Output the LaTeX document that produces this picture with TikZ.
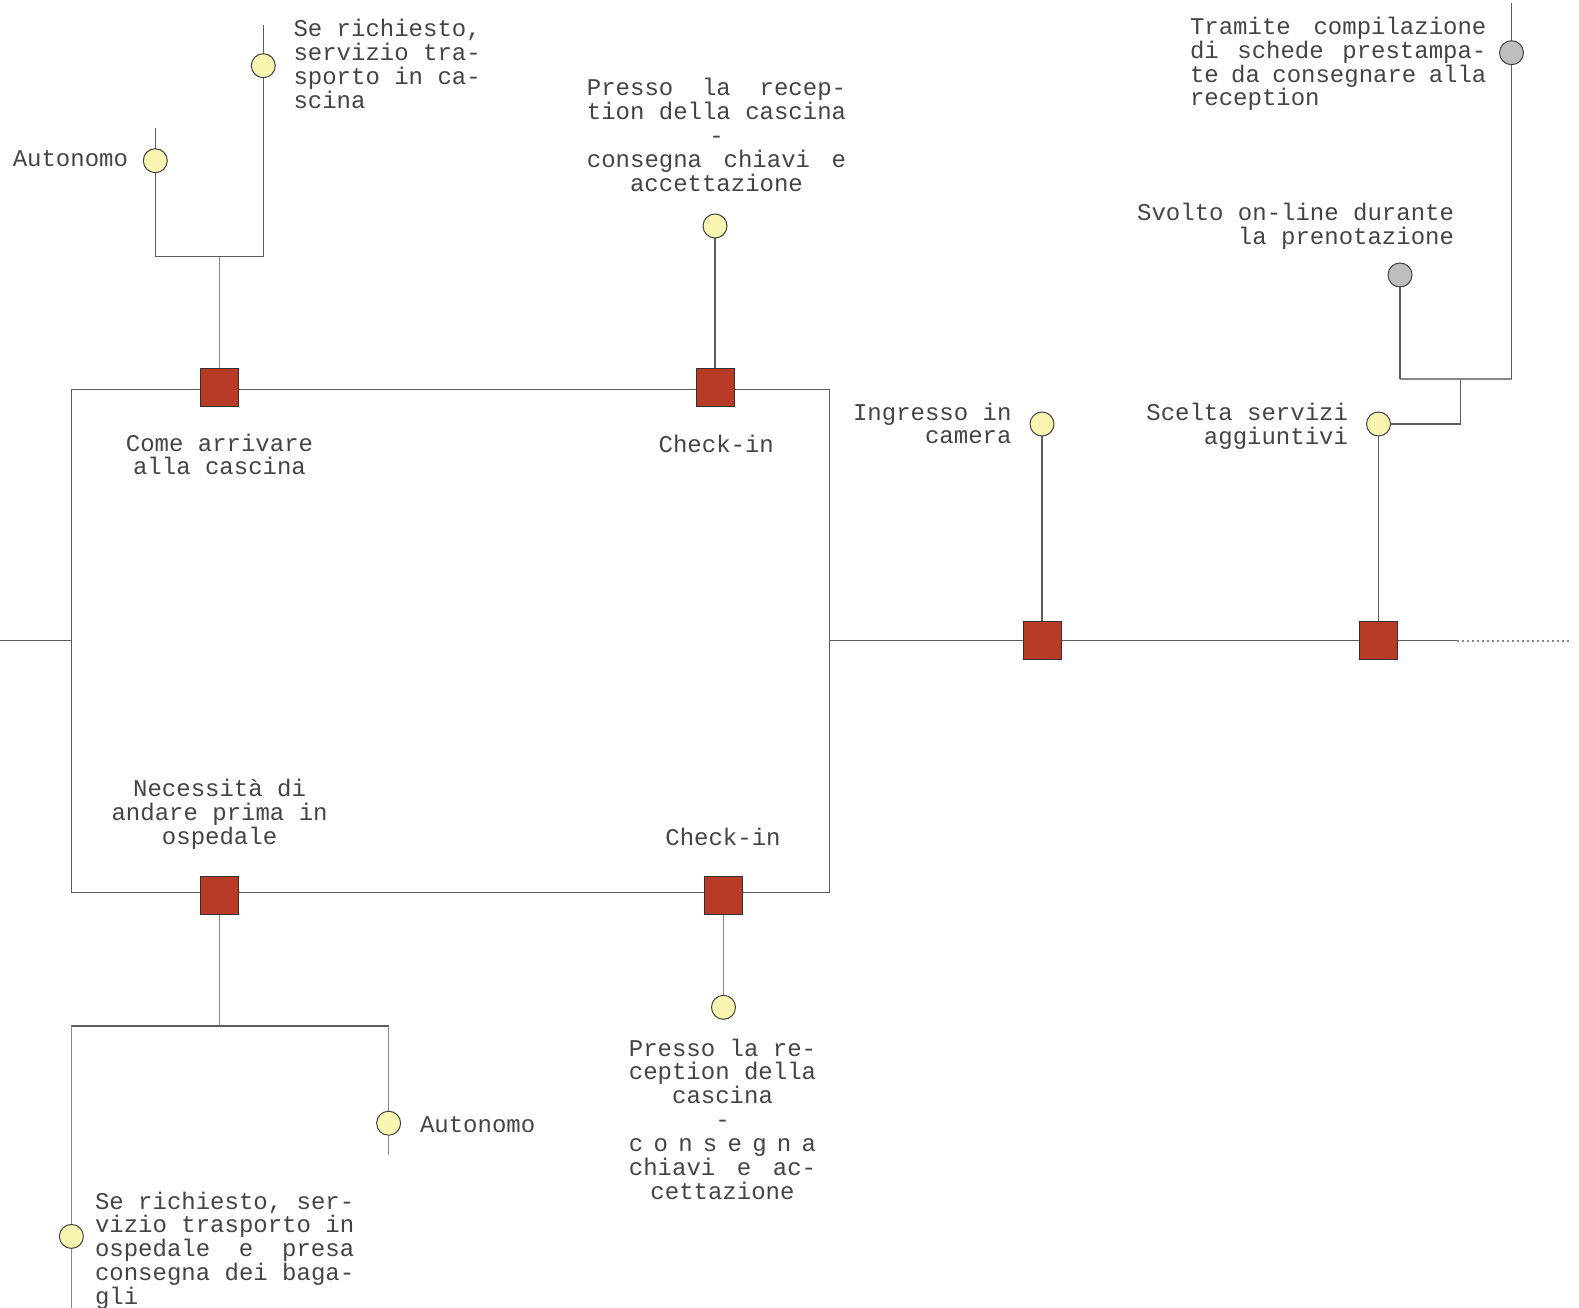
\documentclass[tikz,border=0pt]{standalone}
\usepackage{fontspec}
\newfontfamily\cour{Liberation Mono}
\usetikzlibrary{backgrounds}
\definecolor{sqred}{HTML}{B83B27}
\definecolor{cyel}{HTML}{FAF6B2}
\definecolor{cgray}{HTML}{BEBEBE}
\definecolor{wire}{HTML}{5C5C5C}
\definecolor{wirelt}{HTML}{8A8A8A}
\definecolor{txt}{HTML}{444444}
\newcommand\jl[2]{\makebox[#1][s]{#2}}
\def\js{\hskip 0.6em plus 1fil\relax}
\def\jss{\hskip 0.6em minus 0.3em\relax}
\def\lt{\hskip 0pt plus 1fil\relax}
\tikzset{
 lbl/.style={font=\cour\fontsize{24}{23.9}\selectfont, text=txt, inner sep=0pt, outer sep=0pt},
 sq/.style={draw=black!80, fill=sqred, minimum size=38pt, inner sep=0pt, outer sep=0pt, line width=1pt},
 cdot/.style={circle, draw=black!75, fill=cyel, minimum size=24pt, inner sep=0pt, outer sep=0pt, line width=1pt},
 gdot/.style={cdot, fill=cgray},
 wireline/.style={draw=wire, line width=1.2pt},
 wirelight/.style={draw=wirelt, line width=1.4pt},
}
\begin{document}
\begin{tikzpicture}[x=1pt,y=-1pt]
\useasboundingbox (0,0) rectangle (1579,1308);
% box
\node[draw=wire, line width=1.2pt, minimum width=757.9pt, minimum height=503pt, inner sep=0pt, outer sep=0pt] (box) at (450.35,640.8) {};
% squares
\node[sq] (sqA) at (219.5,387) {};
\node[sq] (sqB) at (715,387) {};
\node[sq] (sqC) at (219.5,895.5) {};
\node[sq] (sqD) at (723.5,895.5) {};
\node[sq] (sqE) at (1042,640.8) {};
\node[sq] (sqF) at (1378.5,640.8) {};
% circles
\node[cdot] (cA1) at (155.3,160.7) {};
\node[cdot] (cA2) at (263.3,65.7) {};
\node[cdot] (cB) at (715,226) {};
\node[cdot] (cC1) at (71.4,1236.4) {};
\node[cdot] (cC2) at (388.6,1123.2) {};
\node[cdot] (cD) at (723.5,1007.3) {};
\node[cdot] (cE) at (1042,424) {};
\node[cdot] (cF) at (1378.5,424) {};
\node[gdot] (gF1) at (1400,275) {};
\node[gdot] (gF2) at (1511.5,52.7) {};
% coordinates
\coordinate (jA) at (219.5,256.7);
\coordinate (jAl) at (155.3,256.7);
\coordinate (jAr) at (263.3,256.7);
\coordinate (eAl) at (155.3,128);
\coordinate (eAr) at (263.3,25);
\coordinate (jC) at (219.5,1026);
\coordinate (jCl) at (71.4,1026);
\coordinate (jCr) at (388.6,1026);
\coordinate (eCl) at (71.4,1308);
\coordinate (eCr) at (388.6,1155.4);
\coordinate (jF) at (1460.7,424);
\coordinate (jF2) at (1460.7,379);
\coordinate (jFl) at (1400,379);
\coordinate (jFr) at (1511.5,379);
\coordinate (eFr) at (1511.5,3);
\coordinate (L0) at (0,640.8);
\coordinate (R1) at (1457,640.8);
\coordinate (R2) at (1572,640.8);
% labels (base anchor of a multi-line node = its last line)
\node[lbl, anchor=base east] (tAut1) at (128,166.7) {Autonomo};
\node[lbl, anchor=base west, align=left] (tSe1) at (293.5,108.4) {Se richiesto,\\servizio tra-\\sporto in ca-\\scina};
\node[lbl, anchor=base, align=center] (tPr1) at (716.5,191.6) {\jl{10.8em}{Presso\js la\js recep-}\\tion della cascina\\-\\\jl{10.8em}{consegna\js chiavi\js e}\\accettazione};
\node[lbl, anchor=base, align=center] (tCome) at (219.5,474.9) {Come arrivare\\alla cascina};
\node[lbl, anchor=base] (tCk1) at (716.3,452.7) {Check-in};
\node[lbl, anchor=base west, align=left] (tTr) at (1190,106) {\jl{12.35em}{Tramite\js compilazione}\\\jl{12.35em}{di\js schede\js prestampa-}\\\jl{12.35em}{te\jss da\jss consegnare\jss alla}\\reception};
\node[lbl, anchor=base east, align=right] (tSv) at (1454,244.9) {Svolto on-line durante\\la prenotazione};
\node[lbl, anchor=base east, align=right] (tIn) at (1011.5,443.9) {Ingresso in\\camera};
\node[lbl, anchor=base east, align=right] (tSc) at (1348,444.6) {Scelta servizi\\aggiuntivi};
\node[lbl, anchor=base, align=center] (tNe) at (219.6,844.2) {Necessità di\\andare prima in\\ospedale};
\node[lbl, anchor=base] (tCk2) at (723,845) {Check-in};
\node[lbl, anchor=base, align=center] (tPr2) at (722.5,1199.4) {Presso la re-\\ception della\\cascina\\-\\\jl{7.8em}{c\lt o\lt n\lt s\lt e\lt g\lt n\lt a}\\\jl{7.8em}{chiavi\js e\js ac-}\\cettazione};
\node[lbl, anchor=base west] (tAut2) at (420,1132) {Autonomo};
\node[lbl, anchor=base west, align=left] (tSe2) at (95,1304.6) {Se richiesto, ser-\\vizio trasporto in\\\jl{10.8em}{ospedale\js e\js presa}\\consegna dei baga-\\gli};
% connectors
\begin{pgfonlayer}{background}
\draw[wirelight] (sqA) -- (jA);
\draw[wireline] (jAl) -- (jAr);
\draw[wireline] (jAl) -- (cA1.center) -- (eAl);
\draw[wireline] (jAr) -- (cA2.center) -- (eAr);
\draw[wireline] (sqB) -- (cB);
\draw[wirelight] (sqC) -- (jC);
\draw[wireline] (jCl) -- (jCr);
\draw[wirelight] (jCl) -- (cC1.center) -- (eCl);
\draw[wirelight] (jCr) -- (cC2.center) -- (eCr);
\draw[wirelight] (sqD) -- (cD);
\draw[wireline] (sqE) -- (cE);
\draw[wireline] (sqF) -- (cF);
\draw[wireline] (cF) -- (jF) -- (jF2);
\draw[wirelight] (jFl) -- (jFr);
\draw[wireline] (jFl) -- (gF1);
\draw[wireline] (jFr) -- (gF2.center) -- (eFr);
\draw[wireline] (L0) -- (box.west);
\draw[wireline] (box.east) -- (sqE) -- (sqF) -- (R1);
\draw[draw=wirelt, line width=1.4pt, dash pattern=on 2pt off 3pt] (R1) -- (R2);
\end{pgfonlayer}
\end{tikzpicture}
\end{document}
